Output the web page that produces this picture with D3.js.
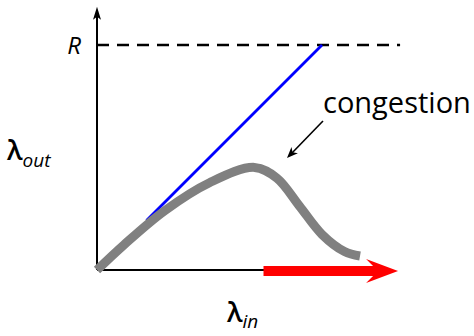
<!DOCTYPE html>
<html lang="en">
<head>
  <meta charset="UTF-8">
  <title>Congestion</title>
  <script src="https://d3js.org/d3.v7.min.js"></script>
</head>
<body style="margin:0">

  <div id="chart"></div>

  <script type="text/javascript">

  var w = 474;
  var h = 336;

  // everything is in units of the link capacity R
  var capacity = 1;
  var axisX = [0, 1.347];
  var axisY = [0, 1.17];

  // throughput with congestion (grey curve)
  var loadIn  = [0, 0.12, 0.30, 0.50, 0.70, 0.80, 0.90, 1.00, 1.10, 1.169];
  var loadOut = [0, 0.112, 0.263, 0.388, 0.456, 0.408, 0.284, 0.158, 0.082, 0.062];

  // ideal throughput (blue)
  var idealIn  = [0.22, 1.0];
  var idealOut = [0.22, 1.0];

  // growing offered load (red arrow)
  var loadArrow = [0.74, 1.338];

  var x = d3.scaleLinear().domain([0, 1]).range([97, 322]);
  var y = d3.scaleLinear().domain([0, 1]).range([270, 45]);

  var svg = d3.select('#chart')
    .append('svg')
    .attr('width', w)
    .attr('height', h)
    .style('font-family', '"Open Sans", sans-serif');

  var line = d3.line()
    .x(d => x(d[0]))
    .y(d => y(d[1]));

  // R dashed line
  svg.append("path")
    .attr("d", line([[0, capacity], [axisX[1], capacity]]))
    .attr("stroke", "#000")
    .attr("stroke-width", 2.5)
    .attr("stroke-dasharray", "12,8")
    .attr("fill", "none");

  // axes
  svg.append("path")
    .attr("d", line([[0, 0], [0, axisY[1] - 0.02]]))
    .attr("stroke", "#000")
    .attr("stroke-width", 2)
    .attr("fill", "none");

  svg.append("path")
    .attr("d", line([[0, 0], [axisX[1] - 0.05, 0]]))
    .attr("stroke", "#000")
    .attr("stroke-width", 2)
    .attr("fill", "none");

  // y axis arrow head
  var tx = x(0), ty = y(axisY[1]);
  svg.append("path")
    .attr("d", "M" + tx + "," + ty + "L" + (tx - 4) + "," + (ty + 13) +
               "L" + tx + "," + (ty + 10) + "L" + (tx + 4) + "," + (ty + 13) + "Z")
    .attr("fill", "#000");

  // ideal line
  svg.append("path")
    .attr("d", line(d3.zip(idealIn, idealOut)))
    .attr("stroke", "#0000ff")
    .attr("stroke-width", 2.8)
    .attr("fill", "none");

  // congestion curve
  var smooth = d3.line()
    .x(d => x(d[0]))
    .y(d => y(d[1]))
    .curve(d3.curveCatmullRom.alpha(0.5));
  svg.append("path")
    .attr("d", smooth(d3.zip(loadIn, loadOut)))
    .attr("stroke", "#808080")
    .attr("stroke-width", 9)
    .attr("fill", "none");

  // red arrow on the x axis
  var ax0 = x(loadArrow[0]), ax1 = x(loadArrow[1]), ay = y(0) + 1;
  var back = ax1 - 32, notch = ax1 - 25;
  svg.append("path")
    .attr("d", "M" + ax0 + "," + (ay - 5) + "L" + notch + "," + (ay - 5) +
               "L" + back + "," + (ay - 12) + "L" + ax1 + "," + ay +
               "L" + back + "," + (ay + 12) + "L" + notch + "," + (ay + 5) +
               "L" + ax0 + "," + (ay + 5) + "Z")
    .attr("fill", "#ff0000");

  // annotation arrow
  var a0 = [323, 121], a1 = [287, 158];
  svg.append("line")
    .attr("x1", a0[0]).attr("y1", a0[1])
    .attr("x2", a1[0] + 4).attr("y2", a1[1] - 4)
    .attr("stroke", "#000")
    .attr("stroke-width", 1.6);
  var ang = Math.atan2(a1[1] - a0[1], a1[0] - a0[0]) * 180 / Math.PI;
  svg.append("path")
    .attr("transform", "translate(" + a1[0] + "," + a1[1] + ") rotate(" + ang + ")")
    .attr("d", "M0,0L-11,-4.5L-8,0L-11,4.5Z")
    .attr("fill", "#000");

  svg.append("text")
    .attr("x", 323)
    .attr("y", 113)
    .attr("font-size", 29)
    .text("congestion");

  // labels
  svg.append("text")
    .attr("x", x(0) - 16)
    .attr("y", y(capacity) + 9)
    .attr("text-anchor", "end")
    .attr("font-size", 24)
    .attr("font-style", "italic")
    .text("R");

  var yl = svg.append("text")
    .attr("x", 7)
    .attr("y", 160);
  yl.append("tspan").attr("font-size", 27).attr("font-weight", 600).text("λ");
  yl.append("tspan").attr("font-size", 19).attr("font-style", "italic").attr("dy", 7).text("out");

  var xl = svg.append("text")
    .attr("x", 227)
    .attr("y", 322);
  xl.append("tspan").attr("font-size", 27).attr("font-weight", 600).text("λ");
  xl.append("tspan").attr("font-size", 19).attr("font-style", "italic").attr("dy", 6).text("in");

  </script>
</body>
</html>
